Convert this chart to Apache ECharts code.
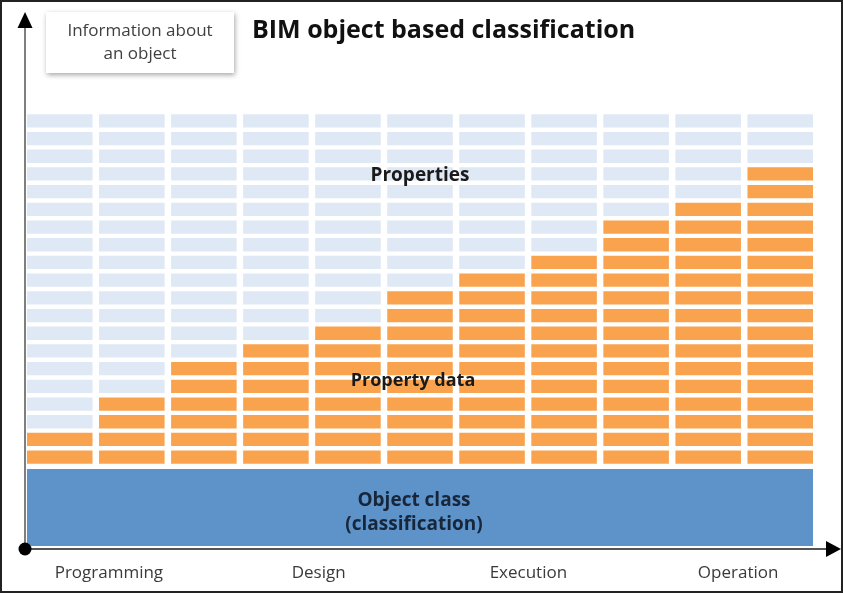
<!DOCTYPE html>
<html>
<head>
<meta charset="utf-8">
<script src="https://cdn.jsdelivr.net/npm/echarts@6/dist/echarts.min.js"></script>
<style>
html,body{margin:0;padding:0;background:#fff;}
#chart{width:843px;height:593px;}
</style>
</head>
<body>
<div id="chart"></div>
<script>
// ---- data ----
const stageColumns = ['S1','S2','S3','S4','S5','S6','S7','S8','S9','S10','S11'];
const propertyDataCounts = [2, 4, 6, 7, 8, 10, 11, 12, 14, 15, 17];
const propertySlots = [20, 20, 20, 20, 20, 20, 20, 20, 20, 20, 20];
const phaseLabels = ['Programming', 'Design', 'Execution', 'Operation'];
const titleText = 'BIM object based classification';
const yAxisCaption = 'Information about\nan object';
const bandLabels = ['Properties', 'Property data', 'Object class\n(classification)'];

const COLORS = { light: '#dfe8f5', orange: '#f9a34f', blue: '#5e93ca', text: '#1a1a1a' };
const FONT = 'Open Sans';
const Y_MIN = -4.52;

const chart = echarts.init(document.getElementById('chart'), null, { renderer: 'canvas' });

const brickData = stageColumns.map((s, i) => [i, propertyDataCounts[i], propertySlots[i]]);

const option = {
  animation: false,
  backgroundColor: '#ffffff',
  grid: [
    { left: 23.75, width: 792.5, top: 112, bottom: 47 },
    { left: 4, right: 0, top: 548, height: 1 }
  ],
  xAxis: [
    { type: 'category', gridIndex: 0, data: stageColumns, show: false },
    { type: 'category', gridIndex: 1, data: phaseLabels,
      axisLine: { show: false }, axisTick: { show: false },
      axisLabel: { margin: 16, fontFamily: FONT, fontSize: 17, color: '#3a3a3a' } }
  ],
  yAxis: [
    { type: 'value', gridIndex: 0, min: Y_MIN, max: 20, show: false, splitLine: { show: false } },
    { type: 'value', gridIndex: 1, show: false }
  ],
  series: [
    {
      type: 'custom',
      xAxisIndex: 0, yAxisIndex: 0,
      data: brickData,
      renderItem: function (params, api) {
        const col = api.value(0), filled = api.value(1), total = api.value(2);
        const band = api.size([1, 0])[0];
        const children = [];
        for (let r = 0; r < total; r++) {
          const top = api.coord([col, r + 1]);
          const bot = api.coord([col, r]);
          children.push({
            type: 'rect',
            shape: { x: top[0] - band / 2 + 3.25, y: top[1] + 2.2, width: band - 6.5, height: bot[1] - top[1] - 4.4 },
            style: { fill: r < filled ? COLORS.orange : COLORS.light }
          });
        }
        return { type: 'group', children: children };
      }
    },
    {
      type: 'custom',
      xAxisIndex: 0, yAxisIndex: 0,
      data: [[0, stageColumns.length - 1]],
      renderItem: function (params, api) {
        const band = api.size([1, 0])[0];
        const tl = api.coord([api.value(0), 0]);
        const br = api.coord([api.value(1), Y_MIN]);
        const x0 = tl[0] - band / 2 + 3.25, x1 = br[0] + band / 2 - 3.25;
        return {
          type: 'rect',
          shape: { x: x0, y: tl[1] + 3, width: x1 - x0, height: br[1] - tl[1] - 3 },
          style: { fill: COLORS.blue }
        };
      }
    }
  ],
  graphic: [
    { type: 'rect', shape: { x: 1, y: 1, width: 841, height: 591 }, style: { fill: null, stroke: '#222', lineWidth: 2 }, z: 100 },
    // y-axis arrow
    { type: 'line', shape: { x1: 25, y1: 549, x2: 25, y2: 24 }, style: { stroke: '#555', lineWidth: 1.5 }, z: 50 },
    { type: 'polygon', shape: { points: [[25, 12], [17.5, 28], [32.5, 28]] }, style: { fill: '#000' }, z: 50 },
    // x-axis arrow
    { type: 'line', shape: { x1: 25, y1: 549, x2: 830, y2: 549 }, style: { stroke: '#555', lineWidth: 2 }, z: 50 },
    { type: 'polygon', shape: { points: [[841, 549], [826, 541], [826, 557]] }, style: { fill: '#000' }, z: 50 },
    { type: 'circle', shape: { cx: 25, cy: 549, r: 6.5 }, style: { fill: '#000' }, z: 51 },
    // caption box
    { type: 'rect', shape: { x: 46, y: 12, width: 188, height: 61 },
      style: { fill: '#fff', shadowBlur: 5, shadowColor: 'rgba(0,0,0,0.35)', shadowOffsetX: 1, shadowOffsetY: 2 }, z: 40 },
    { type: 'text', x: 140, y: 43, z: 41,
      style: { text: yAxisCaption, font: '17px "' + FONT + '"', fill: '#404040', align: 'center', verticalAlign: 'middle', lineHeight: 23 } },
    // title
    { type: 'text', x: 252, y: 31, z: 41,
      style: { text: titleText, font: 'bold 25px "' + FONT + '"', fill: '#111', align: 'left', verticalAlign: 'middle' } },
    // band labels
    { type: 'text', x: 420, y: 176, z: 41,
      style: { text: bandLabels[0], font: 'bold 19px "' + FONT + '"', fill: COLORS.text, align: 'center', verticalAlign: 'middle' } },
    { type: 'text', x: 413, y: 381, z: 41,
      style: { text: bandLabels[1], font: 'bold 18px "' + FONT + '"', fill: COLORS.text, align: 'center', verticalAlign: 'middle' } },
    { type: 'text', x: 414, y: 513, z: 41,
      style: { text: bandLabels[2], font: 'bold 19px "' + FONT + '"', fill: '#17263a', align: 'center', verticalAlign: 'middle', lineHeight: 24 } }
  ]
};
chart.setOption(option);
</script>
</body>
</html>
